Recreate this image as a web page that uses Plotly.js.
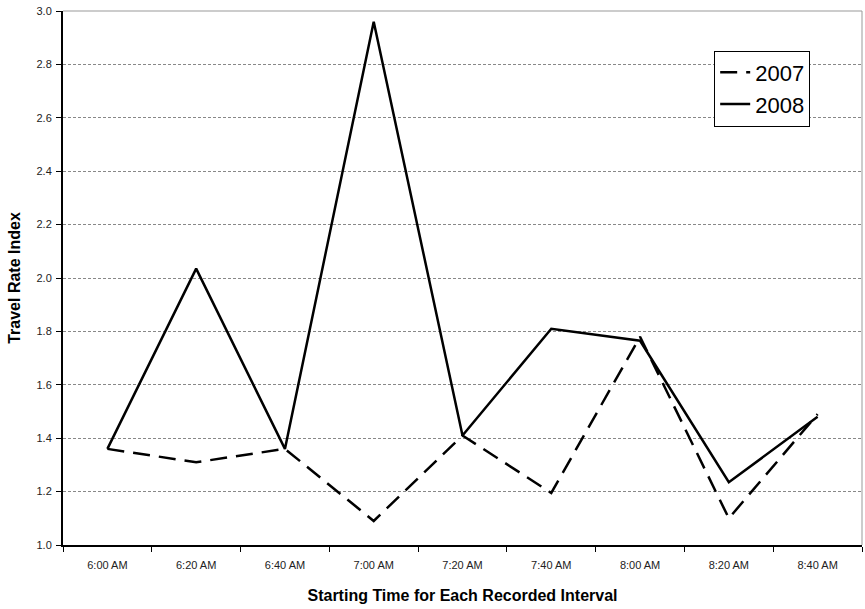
<!DOCTYPE html>
<html>
<head>
<meta charset="utf-8">
<script src="https://cdn.plot.ly/plotly-3.0.1.min.js"></script>
<style>html,body{margin:0;padding:0;background:#fff;}</style>
</head>
<body>
<div id="chart" style="width:865px;height:609px;"></div>
<script>
var categories = ["6:00 AM","6:20 AM","6:40 AM","7:00 AM","7:20 AM","7:40 AM","8:00 AM","8:20 AM","8:40 AM"];
var values2007 = [1.36, 1.31, 1.36, 1.09, 1.41, 1.195, 1.78, 1.10, 1.49];
var values2008 = [1.36, 2.035, 1.36, 2.96, 1.41, 1.81, 1.765, 1.235, 1.48];
var yTicks = [1.0,1.2,1.4,1.6,1.8,2.0,2.2,2.4,2.6,2.8,3.0];

var FONT = "'Liberation Sans', Arial, sans-serif";

var traces = [
  {x: categories, y: values2007, name: "2007", type: "scatter", mode: "lines",
   line: {color: "#000", width: 2.5, dash: "17px,9px"}},
  {x: categories, y: values2008, name: "2008", type: "scatter", mode: "lines",
   line: {color: "#000", width: 2.5}}
];

var layout = {
  width: 865, height: 609,
  margin: {l: 63, r: 3, t: 11, b: 64},
  paper_bgcolor: "#fff", plot_bgcolor: "#fff",
  font: {family: FONT, color: "#222"},
  showlegend: true,
  legend: {x: 0.815, y: 0.926, xanchor: "left", yanchor: "top",
           bordercolor: "#000", borderwidth: 1, bgcolor: "#fff",
           font: {family: FONT, size: 22, color: "#000"},
           tracegroupgap: 0},
  xaxis: {type: "category", range: [-0.5, 8.5], tickson: "boundaries", ticks: "outside", ticklen: 5,
          tickcolor: "#000", showline: true, linecolor: "#000", linewidth: 2,
          showgrid: false, zeroline: false, ticklabelstandoff: 9,
          tickfont: {family: FONT, size: 11, color: "#222"},
          title: {text: "Starting Time for Each Recorded Interval", standoff: 20,
                  font: {family: FONT, size: 16, color: "#000", weight: "bold"}}},
  yaxis: {range: [1.0, 3.0], tickvals: yTicks, ticktext: yTicks.map(function(v){return v.toFixed(1);}),
          ticks: "outside", ticklen: 5, tickcolor: "#000",
          showline: true, linecolor: "#000", linewidth: 2,
          showgrid: true, gridcolor: "#888", gridwidth: 1, griddash: "3px,2px",
          zeroline: false, ticklabelstandoff: 2,
          tickfont: {family: FONT, size: 11, color: "#222"},
          title: {text: "Travel Rate Index", standoff: 12,
                  font: {family: FONT, size: 16, color: "#000", weight: "bold"}}},
  shapes: [
    {type: "line", xref: "paper", yref: "paper", x0: 1, x1: 1, y0: 0, y1: 1,
     line: {color: "#999", width: 1}},
    {type: "line", xref: "paper", yref: "paper", x0: 0, x1: 1, y0: 1, y1: 1,
     line: {color: "#999", width: 1}}
  ]
};

Plotly.newPlot("chart", traces, layout, {displayModeBar: false, staticPlot: true});
</script>
</body>
</html>
